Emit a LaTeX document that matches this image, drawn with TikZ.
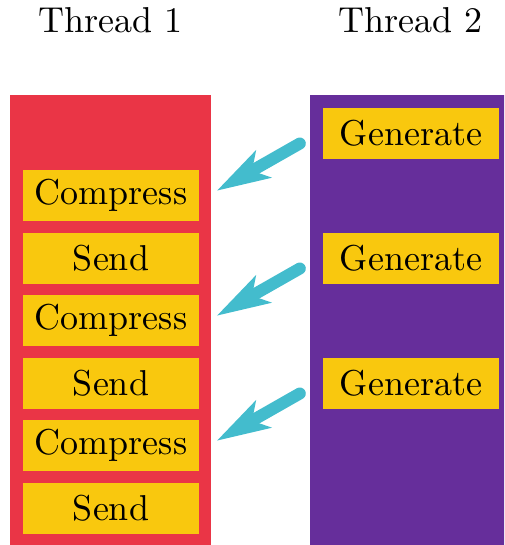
\documentclass[tikz,border=0pt]{standalone}
\usepackage{fontspec}
\setmainfont{lmroman10-regular.otf}
\usetikzlibrary{arrows.meta}
\definecolor{threadred}{HTML}{EA3546}
\definecolor{threadpurple}{HTML}{662E9B}
\definecolor{taskyellow}{HTML}{F9C80E}
\definecolor{flowcyan}{HTML}{43BCCD}
\tikzset{
  column/.style={fill=#1, draw=none},
  task/.style={rectangle, fill=taskyellow, draw=none, inner sep=0pt,
    minimum width=176pt, minimum height=51pt,
    font=\fontsize{36}{43}\selectfont, text=black},
  header/.style={anchor=base, inner sep=0pt, font=\fontsize{36}{43}\selectfont},
  handoff/.style={line width=12pt, line cap=round, flowcyan,
    -{Stealth[length=54pt, width=32pt, inset=14pt, line width=0pt]}}
}
\begin{document}
\begin{tikzpicture}[x=1pt, y=-1pt]
  \useasboundingbox (0,0) rectangle (504,545);
  \clip (0,0) rectangle (504,545);

  % thread headers
  \node[header] (h1) at (110.5,33) {Thread 1};
  \node[header] (h2) at (410.5,33) {Thread 2};

  % thread columns
  \fill[column=threadred] (10,95) rectangle (211,545);
  \fill[column=threadpurple] (310,95) rectangle (511,545);

  % thread 1 tasks
  \node[task] (c1) at (111,195.5) {Compress};
  \node[task] (s1) at (111,258)   {Send};
  \node[task] (c2) at (111,320.5) {Compress};
  \node[task] (s2) at (111,383)   {Send};
  \node[task] (c3) at (111,445.5) {Compress};
  \node[task] (s3) at (111,508.5) {Send};

  % thread 2 tasks
  \node[task] (g1) at (411,133.5) {Generate};
  \node[task] (g2) at (411,258.5) {Generate};
  \node[task] (g3) at (411,383.5) {Generate};

  % hand-off arrows from generator to compressor
  \foreach \g/\c in {g1/c1, g2/c2, g3/c3} {
    \coordinate (\g-out) at ([xshift=-23pt, yshift=-10pt]\g.west);
    \coordinate (\c-in) at ([xshift=18pt, yshift=5pt]\c.east);
    \draw[handoff] (\g-out) -- (\c-in);
  }
\end{tikzpicture}
\end{document}
